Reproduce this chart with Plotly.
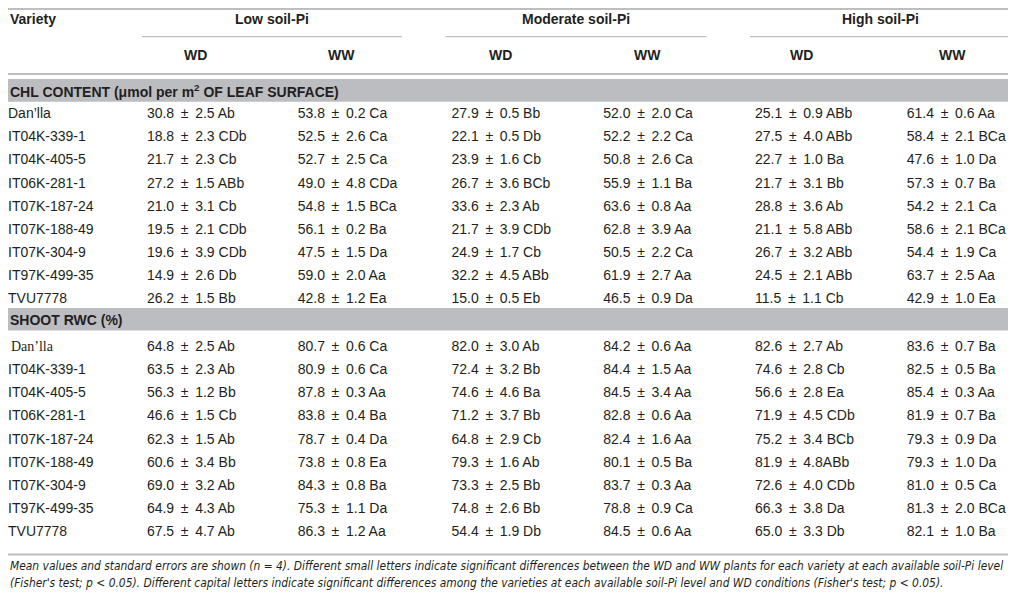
import plotly.graph_objects as go

# ---- data ----
varieties = ["Dan’lla", "IT04K-339-1", "IT04K-405-5", "IT06K-281-1", "IT07K-187-24",
             "IT07K-188-49", "IT07K-304-9", "IT97K-499-35", "TVU7778"]
soil_levels = ["Low soil-Pi", "Moderate soil-Pi", "High soil-Pi"]
treatments = ["WD", "WW"]

chl_low_wd = ["30.8 ± 2.5 Ab", "18.8 ± 2.3 CDb", "21.7 ± 2.3 Cb", "27.2 ± 1.5 ABb", "21.0 ± 3.1 Cb",
              "19.5 ± 2.1 CDb", "19.6 ± 3.9 CDb", "14.9 ± 2.6 Db", "26.2 ± 1.5 Bb"]
chl_low_ww = ["53.8 ± 0.2 Ca", "52.5 ± 2.6 Ca", "52.7 ± 2.5 Ca", "49.0 ± 4.8 CDa", "54.8 ± 1.5 BCa",
              "56.1 ± 0.2 Ba", "47.5 ± 1.5 Da", "59.0 ± 2.0 Aa", "42.8 ± 1.2 Ea"]
chl_mod_wd = ["27.9 ± 0.5 Bb", "22.1 ± 0.5 Db", "23.9 ± 1.6 Cb", "26.7 ± 3.6 BCb", "33.6 ± 2.3 Ab",
              "21.7 ± 3.9 CDb", "24.9 ± 1.7 Cb", "32.2 ± 4.5 ABb", "15.0 ± 0.5 Eb"]
chl_mod_ww = ["52.0 ± 2.0 Ca", "52.2 ± 2.2 Ca", "50.8 ± 2.6 Ca", "55.9 ± 1.1 Ba", "63.6 ± 0.8 Aa",
              "62.8 ± 3.9 Aa", "50.5 ± 2.2 Ca", "61.9 ± 2.7 Aa", "46.5 ± 0.9 Da"]
chl_high_wd = ["25.1 ± 0.9 ABb", "27.5 ± 4.0 ABb", "22.7 ± 1.0 Ba", "21.7 ± 3.1 Bb", "28.8 ± 3.6 Ab",
               "21.1 ± 5.8 ABb", "26.7 ± 3.2 ABb", "24.5 ± 2.1 ABb", "11.5 ± 1.1 Cb"]
chl_high_ww = ["61.4 ± 0.6 Aa", "58.4 ± 2.1 BCa", "47.6 ± 1.0 Da", "57.3 ± 0.7 Ba", "54.2 ± 2.1 Ca",
               "58.6 ± 2.1 BCa", "54.4 ± 1.9 Ca", "63.7 ± 2.5 Aa", "42.9 ± 1.0 Ea"]

rwc_low_wd = ["64.8 ± 2.5 Ab", "63.5 ± 2.3 Ab", "56.3 ± 1.2 Bb", "46.6 ± 1.5 Cb", "62.3 ± 1.5 Ab",
              "60.6 ± 3.4 Bb", "69.0 ± 3.2 Ab", "64.9 ± 4.3 Ab", "67.5 ± 4.7 Ab"]
rwc_low_ww = ["80.7 ± 0.6 Ca", "80.9 ± 0.6 Ca", "87.8 ± 0.3 Aa", "83.8 ± 0.4 Ba", "78.7 ± 0.4 Da",
              "73.8 ± 0.8 Ea", "84.3 ± 0.8 Ba", "75.3 ± 1.1 Da", "86.3 ± 1.2 Aa"]
rwc_mod_wd = ["82.0 ± 3.0 Ab", "72.4 ± 3.2 Bb", "74.6 ± 4.6 Ba", "71.2 ± 3.7 Bb", "64.8 ± 2.9 Cb",
              "79.3 ± 1.6 Ab", "73.3 ± 2.5 Bb", "74.8 ± 2.6 Bb", "54.4 ± 1.9 Db"]
rwc_mod_ww = ["84.2 ± 0.6 Aa", "84.4 ± 1.5 Aa", "84.5 ± 3.4 Aa", "82.8 ± 0.6 Aa", "82.4 ± 1.6 Aa",
              "80.1 ± 0.5 Ba", "83.7 ± 0.3 Aa", "78.8 ± 0.9 Ca", "84.5 ± 0.6 Aa"]
rwc_high_wd = ["82.6 ± 2.7 Ab", "74.6 ± 2.8 Cb", "56.6 ± 2.8 Ea", "71.9 ± 4.5 CDb", "75.2 ± 3.4 BCb",
               "81.9 ± 4.8ABb", "72.6 ± 4.0 CDb", "66.3 ± 3.8 Da", "65.0 ± 3.3 Db"]
rwc_high_ww = ["83.6 ± 0.7 Ba", "82.5 ± 0.5 Ba", "85.4 ± 0.3 Aa", "81.9 ± 0.7 Ba", "79.3 ± 0.9 Da",
               "79.3 ± 1.0 Da", "81.0 ± 0.5 Ca", "81.3 ± 2.0 BCa", "82.1 ± 1.0 Ba"]

section_titles = ["CHL CONTENT (μmol per m<sup>2</sup> OF LEAF SURFACE)", "SHOOT RWC (%)"]
footnote = ["Mean values and standard errors are shown (n = 4). Different small letters indicate significant "
            "differences between the WD and WW plants for each variety at each available soil-Pi level",
            "(Fisher's test; p &lt; 0.05). Different capital letters indicate significant differences among "
            "the varieties at each available soil-Pi level and WD conditions (Fisher's test; p &lt; 0.05)."]

sections = [
    [chl_low_wd, chl_low_ww, chl_mod_wd, chl_mod_ww, chl_high_wd, chl_high_ww],
    [rwc_low_wd, rwc_low_ww, rwc_mod_wd, rwc_mod_ww, rwc_high_wd, rwc_high_ww],
]

# ---- layout constants (reference pixels; the page body adds an 8px margin) ----
W, H = 1016, 599
OFF = 8
TXT = "#231f20"
LINE = "#bcbec0"
BAND = "#bcbdc0"
FONT = "Liberation Sans"
LEFT = 8
col_x = [148, 300, 455, 608, 761, 914]
hdr_x = [197, 344, 504, 653, 808, 960]
grp_x = [274, 581, 887]
grp_line = [(143, 405), (449, 712), (756, 1016)]
band_top = [77, 309]
first_row = [113, 349]
row_step = 23.5
foot_y = [571, 588]


def cell(s):
    # slightly wider gaps round the ± sign, as in the typeset table
    return s.replace(" ± ", " \u2009±\u2009 ")


fig = go.Figure()
shapes = []
annotations = []


def hline(y, x0=0, x1=W, width=1.5):
    shapes.append(dict(type="line", xref="x", yref="y", x0=x0, x1=x1, y0=y, y1=y,
                       line=dict(color=LINE, width=width)))


hline(6, width=2)
for a, b in grp_line:
    hline(34, a, b, 1.2)
hline(72, width=2)
hline(559, width=2)

annotations.append(dict(x=LEFT, y=16, text="<b>Variety</b>", xanchor="left"))
for gx, g in zip(grp_x, soil_levels):
    annotations.append(dict(x=gx, y=16, text="<b>%s</b>" % g, xanchor="center"))
for i, hx in enumerate(hdr_x):
    annotations.append(dict(x=hx, y=53, text="<b>%s</b>" % treatments[i % 2], xanchor="center"))

for s, cols in enumerate(sections):
    top = band_top[s]
    shapes.append(dict(type="rect", xref="x", yref="y", x0=0, x1=W, y0=top, y1=top + 23,
                       fillcolor=BAND, line=dict(width=0), layer="below"))
    annotations.append(dict(x=LEFT, y=top + 12, text="<b>%s</b>" % section_titles[s], xanchor="left"))
    ys = [first_row[s] + i * row_step for i in range(len(varieties))]
    fams = [FONT] * len(varieties)
    xs = [LEFT] * len(varieties)
    if s == 1:
        fams[0] = "Liberation Serif"
        xs[0] = LEFT + 3
    fig.add_trace(go.Scatter(x=xs, y=ys, text=varieties, mode="text", textposition="middle right",
                             textfont=dict(family=fams, size=14, color=TXT),
                             hoverinfo="skip", cliponaxis=False))
    for cx, vals in zip(col_x, cols):
        fig.add_trace(go.Scatter(x=[cx] * len(vals), y=ys, text=[cell(v) for v in vals], mode="text",
                                 textposition="middle right",
                                 textfont=dict(family=FONT, size=14, color=TXT),
                                 hoverinfo="skip", cliponaxis=False))

for fy, line in zip(foot_y, footnote):
    annotations.append(dict(x=LEFT, y=fy, text="<i>%s</i>" % line, xanchor="left",
                            font=dict(family="DejaVu Sans Condensed, Liberation Sans", size=11.9,
                                      color=TXT)))

for a in annotations:
    a.setdefault("font", dict(family=FONT, size=14, color=TXT))
    a.update(xref="x", yref="y", yanchor="middle", showarrow=False)

# figure sized so the page (with its 8px body margin) fits the window exactly;
# the y range spreads the small squeeze over the top and bottom of the table
fig.update_layout(
    width=W - 2 * OFF, height=H - 2 * OFF, margin=dict(l=0, r=0, t=0, b=0),
    paper_bgcolor="white", plot_bgcolor="white", showlegend=False,
    shapes=shapes, annotations=annotations,
    xaxis=dict(range=[OFF, W], visible=False, fixedrange=True),
    yaxis=dict(range=[H - 3, OFF - 3], visible=False, fixedrange=True),
)

fig.write_html("out.html")
